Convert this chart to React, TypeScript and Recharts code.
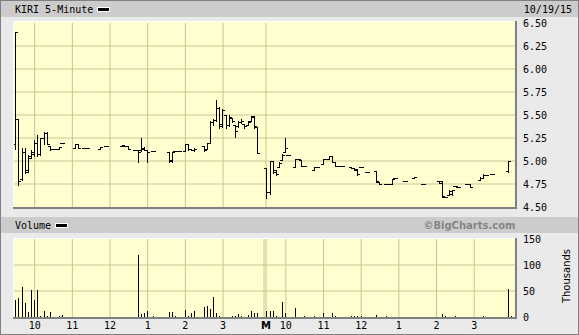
import React from 'react';
import { ComposedChart, Bar, XAxis, YAxis, CartesianGrid } from 'recharts';

// [slot, open, high, low, close] - slot = 5-minute bar index within the session
type Ohlc = [number, number, number, number, number];

const day1Bars: Ohlc[] = [
  [0, 5.19, 6.4, 5.13, 6.4],
  [1, 5.46, 5.46, 4.74, 4.78],
  [2, 4.8, 5.14, 4.79, 5.1],
  [3, 5.1, 5.14, 4.87, 4.88],
  [4, 4.9, 5.06, 4.88, 5.03],
  [5, 5.05, 5.12, 5.03, 5.1],
  [6, 5.08, 5.23, 5.05, 5.2],
  [7, 5.2, 5.28, 5.05, 5.08],
  [8, 5.08, 5.25, 5.07, 5.25],
  [9, 5.25, 5.31, 5.19, 5.3],
  [10, 5.3, 5.31, 5.19, 5.19],
  [11, 5.16, 5.16, 5.12, 5.13],
  [12, 5.13, 5.13, 5.13, 5.13],
  [13, 5.13, 5.13, 5.13, 5.13],
  [14, 5.13, 5.15, 5.13, 5.15],
  [15, 5.2, 5.2, 5.2, 5.2],
  [19, 5.14, 5.18, 5.14, 5.18],
  [20, 5.18, 5.18, 5.14, 5.14],
  [22, 5.14, 5.14, 5.14, 5.14],
  [23, 5.14, 5.14, 5.14, 5.14],
  [27, 5.13, 5.15, 5.13, 5.15],
  [29, 5.16, 5.16, 5.16, 5.16],
  [34, 5.16, 5.17, 5.16, 5.17],
  [35, 5.16, 5.16, 5.16, 5.16],
  [36, 5.16, 5.16, 5.13, 5.13],
  [38, 5.12, 5.12, 5.12, 5.12],
  [39, 5.12, 5.12, 4.99, 5.1],
  [40, 5.12, 5.25, 5.11, 5.13],
  [41, 5.14, 5.15, 5.12, 5.12],
  [42, 5.12, 5.12, 4.99, 5.1],
  [44, 5.11, 5.11, 5.11, 5.11],
  [49, 5.1, 5.1, 4.99, 5.0],
  [50, 5.01, 5.1, 4.99, 5.1],
  [51, 5.11, 5.11, 5.11, 5.11],
  [52, 5.11, 5.11, 5.11, 5.11],
  [54, 5.11, 5.18, 5.11, 5.18],
  [55, 5.18, 5.18, 5.12, 5.13],
  [56, 5.13, 5.13, 5.12, 5.12],
  [57, 5.12, 5.14, 5.11, 5.13],
  [60, 5.16, 5.16, 5.11, 5.12],
  [61, 5.13, 5.2, 5.13, 5.2],
  [62, 5.2, 5.44, 5.2, 5.42],
  [63, 5.42, 5.46, 5.39, 5.45],
  [64, 5.45, 5.66, 5.43, 5.58],
  [65, 5.58, 5.59, 5.36, 5.38],
  [66, 5.4, 5.57, 5.37, 5.55],
  [67, 5.5, 5.5, 5.36, 5.39],
  [68, 5.39, 5.5, 5.38, 5.48],
  [69, 5.47, 5.47, 5.42, 5.44],
  [70, 5.39, 5.39, 5.26, 5.33],
  [71, 5.38, 5.44, 5.37, 5.42],
  [72, 5.42, 5.46, 5.41, 5.43],
  [73, 5.4, 5.4, 5.36, 5.38],
  [74, 5.39, 5.43, 5.39, 5.42],
  [75, 5.43, 5.49, 5.43, 5.48],
  [76, 5.49, 5.49, 5.36, 5.38],
  [77, 5.37, 5.37, 5.09, 5.09],
];

const day2Bars: Ohlc[] = [
  [0, 4.92, 4.92, 4.6, 4.66],
  [1, 4.66, 5.0, 4.64, 5.0],
  [2, 5.0, 5.0, 4.87, 4.88],
  [3, 4.9, 4.9, 4.85, 4.86],
  [4, 4.94, 4.99, 4.94, 4.98],
  [5, 5.01, 5.08, 5.01, 5.07],
  [6, 5.1, 5.25, 5.1, 5.14],
  [7, 5.07, 5.07, 5.07, 5.07],
  [9, 4.94, 5.02, 4.94, 5.02],
  [10, 5.02, 5.02, 5.02, 5.02],
  [11, 5.01, 5.01, 4.95, 4.95],
  [12, 4.95, 4.95, 4.95, 4.95],
  [15, 4.9, 4.94, 4.9, 4.94],
  [16, 4.94, 4.94, 4.94, 4.94],
  [18, 4.97, 5.02, 4.97, 5.02],
  [19, 5.02, 5.02, 5.02, 5.02],
  [20, 5.02, 5.05, 5.02, 5.05],
  [21, 5.05, 5.05, 4.99, 4.99],
  [22, 4.99, 4.99, 4.95, 4.95],
  [23, 4.95, 4.95, 4.95, 4.95],
  [24, 4.95, 4.95, 4.95, 4.95],
  [27, 4.93, 4.93, 4.92, 4.92],
  [28, 4.92, 4.92, 4.9, 4.9],
  [29, 4.91, 4.91, 4.85, 4.86],
  [30, 4.93, 4.93, 4.93, 4.93],
  [32, 4.88, 4.88, 4.88, 4.88],
  [35, 4.89, 4.89, 4.77, 4.78],
  [36, 4.77, 4.77, 4.75, 4.75],
  [38, 4.75, 4.75, 4.75, 4.75],
  [39, 4.75, 4.75, 4.75, 4.75],
  [40, 4.75, 4.8, 4.75, 4.8],
  [41, 4.81, 4.81, 4.81, 4.81],
  [44, 4.78, 4.78, 4.78, 4.78],
  [47, 4.81, 4.83, 4.81, 4.83],
  [50, 4.75, 4.75, 4.75, 4.75],
  [55, 4.78, 4.78, 4.76, 4.76],
  [56, 4.78, 4.78, 4.61, 4.62],
  [57, 4.61, 4.61, 4.61, 4.61],
  [58, 4.63, 4.68, 4.63, 4.67],
  [59, 4.64, 4.69, 4.63, 4.68],
  [60, 4.73, 4.73, 4.73, 4.73],
  [61, 4.72, 4.72, 4.72, 4.72],
  [64, 4.75, 4.75, 4.75, 4.75],
  [65, 4.75, 4.75, 4.72, 4.72],
  [68, 4.79, 4.83, 4.79, 4.82],
  [69, 4.82, 4.86, 4.82, 4.85],
  [70, 4.85, 4.85, 4.85, 4.85],
  [72, 4.86, 4.86, 4.86, 4.86],
  [77, 4.89, 5.0, 4.88, 5.0],
];

// [slot, volume in thousands]
const day1Volume: [number, number][] = [
  [0, 32], [1, 37], [2, 58], [3, 27], [4, 9], [5, 52], [6, 32], [7, 51], [8, 1], [9, 12],
  [10, 2], [11, 9], [14, 2], [15, 3], [39, 120], [40, 6], [41, 8], [42, 11], [44, 1],
  [49, 9], [50, 9], [51, 1], [54, 13], [55, 1], [56, 8], [57, 12], [60, 20], [61, 22],
  [62, 16], [63, 39], [64, 8], [65, 1], [69, 1], [70, 1], [71, 6], [72, 1], [74, 3],
  [75, 11], [76, 8], [77, 8],
];

const day2Volume: [number, number][] = [
  [0, 12], [1, 12], [2, 12], [3, 1], [5, 29], [6, 8], [9, 17], [12, 1], [15, 2], [18, 8],
  [21, 8], [22, 1], [27, 1], [28, 1], [29, 1], [30, 1], [35, 4], [38, 1], [56, 6], [57, 1],
  [60, 1], [69, 1], [77, 54], [78, 1],
];

const priceTicks = [4.5, 4.75, 5, 5.25, 5.5, 5.75, 6, 6.25, 6.5];
const volumeTicks = [0, 50, 100, 150];
const hourSlots = [6, 18, 30, 42, 54, 66];
const hourLabels = ['10', '11', '12', '1', '2', '3'];

const DAY2 = 80;
const M_SLOT = 79.7;
const dayBreak = [79.06, 79.69];
const xDomain: [number, number] = [-0.59, 159];

const GRID = '#c6c690';
const MONO = '"DejaVu Sans Mono", monospace';

const priceData = [
  ...day1Bars.map(([s, o, h, l, c]) => ({ x: s, range: [l, h], o, c })),
  ...day2Bars.map(([s, o, h, l, c]) => ({ x: s + DAY2, range: [l, h], o, c })),
];
const volumeData = [
  ...day1Volume.map(([s, v]) => ({ x: s, vol: v })),
  ...day2Volume.map(([s, v]) => ({ x: s + DAY2, vol: v })),
];

const hourTicks = [...hourSlots, ...hourSlots.map((s) => s + DAY2)];
const xLabels = new Map<number, string>();
hourTicks.forEach((t, i) => xLabels.set(t, hourLabels[i % hourLabels.length]));
xLabels.set(M_SLOT, 'M');
const xTicks = [...hourTicks, M_SLOT].sort((a, b) => a - b);
const gridX = [...hourTicks, ...dayBreak];

function OhlcShape(props: any) {
  const { x, y, width, height, payload } = props;
  if (x == null || y == null) return null;
  const cx = Math.floor(x + width / 2);
  const top = Math.min(y, y + height);
  const span = Math.abs(height);
  const [lo, hi] = payload.range;
  const at = (v: number) => Math.round(hi === lo ? top : top + ((hi - v) / (hi - lo)) * span);
  const t = Math.round(top);
  return (
    <g>
      <rect x={cx} y={t} width={1} height={Math.max(1, Math.round(top + span) - t + 1)} fill="#000" />
      <rect x={cx - 2} y={at(payload.o)} width={2} height={1} fill="#000" />
      <rect x={cx + 1} y={at(payload.c)} width={2} height={1} fill="#000" />
    </g>
  );
}

function VolumeShape(props: any) {
  const { x, y, width, height } = props;
  if (x == null || y == null) return null;
  const cx = Math.floor(x + width / 2);
  const t = Math.round(y);
  const b = Math.round(y + height);
  return <rect x={cx} y={t} width={1} height={Math.max(1, b - t)} fill="#000" />;
}

function HourTick(props: any) {
  const { x, y, payload } = props;
  const label = xLabels.get(payload.value) ?? '';
  const isM = label === 'M';
  return (
    <text
      x={x}
      y={y}
      dy="0.71em"
      textAnchor="middle"
      fontFamily={isM ? '"DejaVu Sans", sans-serif' : MONO}
      fontSize={10}
      fontWeight={isM ? 'bold' : 'normal'}
      fill="#000"
    >
      {label}
    </text>
  );
}

function Frame() {
  return (
    <svg width={579} height={335} style={{ position: 'absolute', left: 0, top: 0 }}>
      <defs>
        <pattern id="dots" width="2" height="2" patternUnits="userSpaceOnUse">
          <rect width="2" height="2" fill="#ffffc4" />
          <rect width="1" height="1" fill="#ffffdc" />
          <rect x="1" y="1" width="1" height="1" fill="#ffffdc" />
        </pattern>
      </defs>
      <rect x={0} y={0} width={579} height={335} fill="#eaeaea" />
      <rect x={0.5} y={0.5} width={578} height={334} fill="none" stroke="#808080" />
      <rect x={1} y={1} width={577} height={16} fill="#cccccc" />
      <rect x={1} y={217} width={577} height={16} fill="#cccccc" />

      {/* price plot panel */}
      <rect x={13} y={21} width={504} height={188} fill="#808080" />
      <rect x={13} y={21} width={502} height={186} fill="#ffffff" />
      <rect x={14} y={22} width={501} height={185} fill="url(#dots)" />

      {/* volume plot panel */}
      <rect x={13} y={238} width={504} height={81} fill="#808080" />
      <rect x={13} y={238} width={502} height={79} fill="#ffffff" />
      <rect x={14} y={239} width={501} height={78} fill="url(#dots)" />

      <text x={15} y={13} fontFamily={MONO} fontSize={10} fill="#000">KIRI 5-Minute</text>
      <rect x={97} y={7} width={13} height={5} fill="#fff" />
      <rect x={98} y={8} width={11} height={3} fill="#000" />
      <text x={572} y={13} textAnchor="end" fontFamily={MONO} fontSize={10} fill="#000">10/19/15</text>

      <text x={15} y={229} fontFamily={MONO} fontSize={10} fill="#000">Volume</text>
      <rect x={55} y={223} width={13} height={5} fill="#fff" />
      <rect x={56} y={224} width={11} height={3} fill="#000" />
      <text x={515.5} y={229} textAnchor="end" fontFamily='"DejaVu Sans", sans-serif' fontWeight="bold" fontSize={10} fill="#858585">
        ©BigCharts.com
      </text>
      <text
        x={570}
        y={276}
        textAnchor="middle"
        transform="rotate(-90 570 276)"
        fontFamily='"DejaVu Sans", sans-serif'
        fontSize={10}
        fill="#000"
      >
        Thousands
      </text>
    </svg>
  );
}

export default function App() {
  const tickStyle = { fill: '#000', fontSize: 10, fontFamily: MONO };
  return (
    <div style={{ position: 'fixed', left: 0, top: 0, width: 579, height: 335, overflow: 'hidden' }}>
      <Frame />
      <div style={{ position: 'absolute', left: 0, top: 0 }}>
        <ComposedChart width={579} height={215} data={priceData} margin={{ top: 23, right: 14, bottom: 8, left: 14 }}>
          <CartesianGrid
            stroke={GRID}
            horizontalValues={priceTicks.slice(1, -1)}
            verticalValues={gridX}
          />
          <XAxis type="number" dataKey="x" domain={xDomain} ticks={xTicks} hide allowDataOverflow />
          <YAxis
            orientation="right"
            domain={[4.5, 6.5]}
            ticks={priceTicks}
            width={50}
            axisLine={false}
            tickLine={false}
            tickSize={0}
            tickMargin={8}
            tick={tickStyle}
            tickFormatter={(v: number) => v.toFixed(2)}
            allowDataOverflow
          />
          <Bar dataKey="range" barSize={3} isAnimationActive={false} shape={(p: any) => <OhlcShape {...p} />} />
        </ComposedChart>
      </div>
      <div style={{ position: 'absolute', left: 0, top: 232 }}>
        <ComposedChart width={579} height={103} data={volumeData} margin={{ top: 7, right: 14, bottom: 0, left: 14 }}>
          <CartesianGrid
            stroke={GRID}
            horizontalValues={volumeTicks.slice(1, -1)}
            verticalValues={gridX}
          />
          <XAxis
            type="number"
            dataKey="x"
            domain={xDomain}
            ticks={xTicks}
            interval={0}
            height={18}
            axisLine={false}
            tickLine={false}
            tickSize={0}
            tickMargin={5}
            tick={<HourTick />}
            allowDataOverflow
          />
          <YAxis
            orientation="right"
            domain={[0, 150]}
            ticks={volumeTicks}
            width={50}
            axisLine={false}
            tickLine={false}
            tickSize={0}
            tickMargin={8}
            tick={tickStyle}
            allowDataOverflow
          />
          <Bar dataKey="vol" barSize={1} isAnimationActive={false} shape={(p: any) => <VolumeShape {...p} />} />
        </ComposedChart>
      </div>
    </div>
  );
}
